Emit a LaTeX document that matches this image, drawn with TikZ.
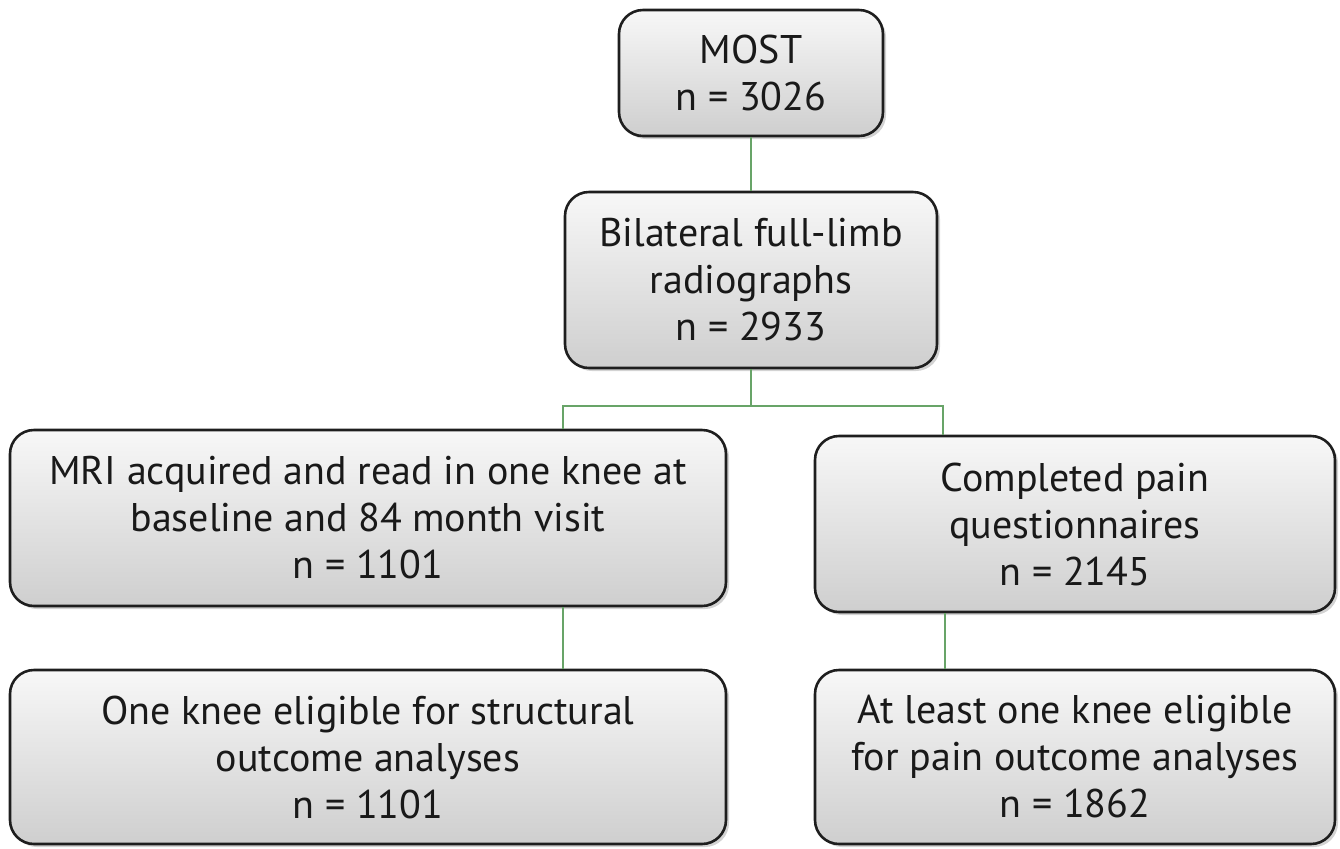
\documentclass[tikz,border=0pt]{standalone}
\usepackage{fontspec}
\setmainfont{PT Sans}
\usepackage{tikz}
\usetikzlibrary{calc,positioning,shadows}
\usepackage{xcolor}
\definecolor{MOSTgris}  {RGB}{30, 30, 30}
\definecolor{MOSTverde} {RGB}{104,164,104}

\tikzset{
  caja/.style={draw=MOSTgris, line width=1.3pt, rounded corners=12pt,
    top color=gray!6, bottom color=gray!38, align=center,
    font=\fontsize{20}{23.5}\selectfont\color{black!90},
    drop shadow={shadow xshift=1.5pt, shadow yshift=-1.5pt, opacity=0.35}},
  enlace/.style={draw=MOSTverde, line width=1pt}
}

\begin{document}
\begin{tikzpicture}[x=0.5pt,y=-0.5pt]
\useasboundingbox (0,0) rectangle (1340,848);
\node[caja, minimum width=132pt, minimum height=63pt] (most) at (751,73) {MOST\\n = 3026};
\node[caja, minimum width=186pt, minimum height=88pt] (radio) at (751,280) {Bilateral full-limb\\radiographs\\n = 2933};
\node[caja, minimum width=358pt, minimum height=88pt] (mri) at (368,518) {MRI acquired and read in one knee at\\baseline and 84 month visit\\n = 1101};
\node[caja, minimum width=260pt, minimum height=88pt] (pain) at (1075,524) {Completed pain\\questionnaires\\n = 2145};
\node[caja, minimum width=358pt, minimum height=87pt] (struct) at (368,757) {One knee eligible for structural\\outcome analyses\\n = 1101};
\node[caja, minimum width=260pt, minimum height=87pt] (painout) at (1075,757) {At least one knee eligible\\for pain outcome analyses\\n = 1862};
% connectors
\coordinate (split) at (751,406);
\draw[enlace] (most) -- (radio);
\draw[enlace] (radio.south) -- (split);
\draw[enlace] (split) -| (563,0 |- mri.north);
\draw[enlace] (split) -| (943,0 |- pain.north);
\draw[enlace] (563,0 |- mri.south) -- (563,0 |- struct.north);
\draw[enlace] (945,0 |- pain.south) -- (945,0 |- painout.north);
\end{tikzpicture}
\end{document}
